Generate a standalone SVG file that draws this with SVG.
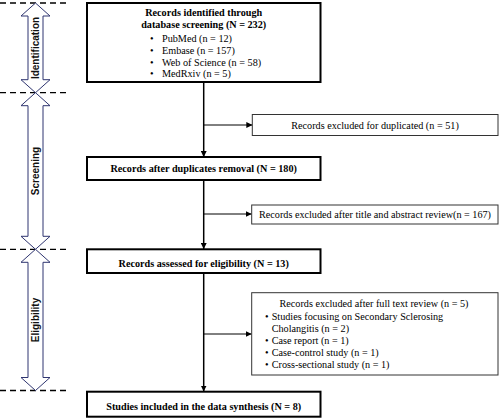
<svg xmlns="http://www.w3.org/2000/svg" width="500" height="419" viewBox="0 0 500 419">
<style>
.main{fill:#fff;stroke:#000;stroke-width:2}
.ex{fill:#fff;stroke:#333;stroke-width:1}
.t{font-family:"Liberation Serif","Times New Roman",serif;font-size:10.2px;fill:#000}
.b{font-weight:bold}
.m{text-anchor:middle}
.phase{fill:#fff;stroke:#2F3570;stroke-width:1}
.pl{font-family:"Liberation Sans",Arial,sans-serif;font-size:10px;font-weight:bold;fill:#111;text-anchor:middle}
.dash{stroke:#000;stroke-width:1.3;stroke-dasharray:6,4;fill:none}
.ln{stroke:#000;stroke-width:1.5;fill:none}
.br{stroke:#000;stroke-width:1;fill:none}
</style>
<defs>
<marker id="ah" viewBox="0 0 10 10" refX="10" refY="5" markerWidth="6" markerHeight="6" markerUnits="userSpaceOnUse" orient="auto">
<path d="M0,0 L10,5 L0,10 Z" fill="#000"/>
</marker>
</defs>
<g id="phases">
<line class="dash" x1="0" y1="3" x2="70" y2="3"/>
<line class="dash" x1="0" y1="92.7" x2="70" y2="92.7"/>
<line class="dash" x1="0" y1="249.3" x2="70" y2="249.3"/>
<line class="dash" x1="0" y1="390.5" x2="70" y2="390.5"/>
<g id="phase-identification">
<polygon class="phase" points="35.5,3 50,16 43,16 43,79.7 50,79.7 35.5,92.7 21,79.7 28,79.7 28,16 21,16"/>
<text class="pl" transform="translate(39.2,48) rotate(-90)">Identification</text>
</g>
<g id="phase-screening">
<polygon class="phase" points="35.5,92.7 50,105.7 43,105.7 43,236.3 50,236.3 35.5,249.3 21,236.3 28,236.3 28,105.7 21,105.7"/>
<text class="pl" transform="translate(39.2,171) rotate(-90)">Screening</text>
</g>
<g id="phase-eligibility">
<polygon class="phase" points="35.5,249.3 50,262.3 43,262.3 43,377.5 50,377.5 35.5,390.5 21,377.5 28,377.5 28,262.3 21,262.3"/>
<text class="pl" transform="translate(39.2,320) rotate(-90)">Eligibility</text>
</g>
</g>
<g id="connectors">
<line class="ln" x1="203.7" y1="82" x2="203.7" y2="157" marker-end="url(#ah)"/>
<line class="ln" x1="203.7" y1="180" x2="203.7" y2="249" marker-end="url(#ah)"/>
<line class="ln" x1="203.7" y1="273" x2="203.7" y2="391.5" marker-end="url(#ah)"/>
<line class="br" x1="203.7" y1="125" x2="252.3" y2="125" marker-end="url(#ah)"/>
<line class="br" x1="203.7" y1="214" x2="251.7" y2="214" marker-end="url(#ah)"/>
<line class="br" x1="203.7" y1="334" x2="251.7" y2="334" marker-end="url(#ah)"/>
</g>
<g id="identified">
<rect class="main" x="87" y="3" width="233.5" height="79"/>
<text class="t b m" x="203.7" y="16">Records identified through</text>
<text class="t b m" x="203.7" y="27.8">database screening (N = 232)</text>
<text class="t" x="150" y="41.5">•</text><text class="t" x="162" y="41.5">PubMed (n = 12)</text>
<text class="t" x="150" y="53.5">•</text><text class="t" x="162" y="53.5">Embase (n = 157)</text>
<text class="t" x="150" y="65.5">•</text><text class="t" x="162" y="65.5">Web of Science (n = 58)</text>
<text class="t" x="150" y="77.3">•</text><text class="t" x="162" y="77.3">MedRxiv (n = 5)</text>
</g>
<g id="excluded-duplicates">
<rect class="ex" x="252.3" y="114.5" width="245.7" height="21"/>
<text class="t m" x="375" y="128.5">Records excluded for duplicated (n = 51)</text>
</g>
<g id="after-duplicates">
<rect class="main" x="87" y="157" width="233.5" height="23"/>
<text class="t b m" x="203.7" y="172">Records after duplicates removal (N = 180)</text>
</g>
<g id="excluded-title">
<rect class="ex" x="251.7" y="205" width="246.3" height="19"/>
<text class="t m" x="375" y="217.8">Records excluded after title and abstract review(n = 167)</text>
</g>
<g id="assessed">
<rect class="main" x="87" y="249.3" width="233.5" height="23.7"/>
<text class="t b m" x="203.7" y="266.5">Records assessed for eligibility (N = 13)</text>
</g>
<g id="excluded-fulltext">
<rect class="ex" x="251.7" y="292.7" width="246.3" height="82.3"/>
<text class="t m" x="374" y="306.5">Records excluded after full text review (n = 5)</text>
<text class="t" x="265" y="319.5">•</text><text class="t" x="271.7" y="319.5">Studies focusing on Secondary Sclerosing</text>
<text class="t" x="271.7" y="331.5">Cholangitis (n = 2)</text>
<text class="t" x="265" y="343.5">•</text><text class="t" x="271.7" y="343.5">Case report (n = 1)</text>
<text class="t" x="265" y="355.5">•</text><text class="t" x="271.7" y="355.5">Case-control study (n = 1)</text>
<text class="t" x="265" y="367.5">•</text><text class="t" x="271.7" y="367.5">Cross-sectional study (n = 1)</text>
</g>
<g id="included">
<rect class="main" x="87" y="391.7" width="233.5" height="25"/>
<text class="t b m" x="203.7" y="410">Studies included in the data synthesis (N = 8)</text>
</g>
</svg>
